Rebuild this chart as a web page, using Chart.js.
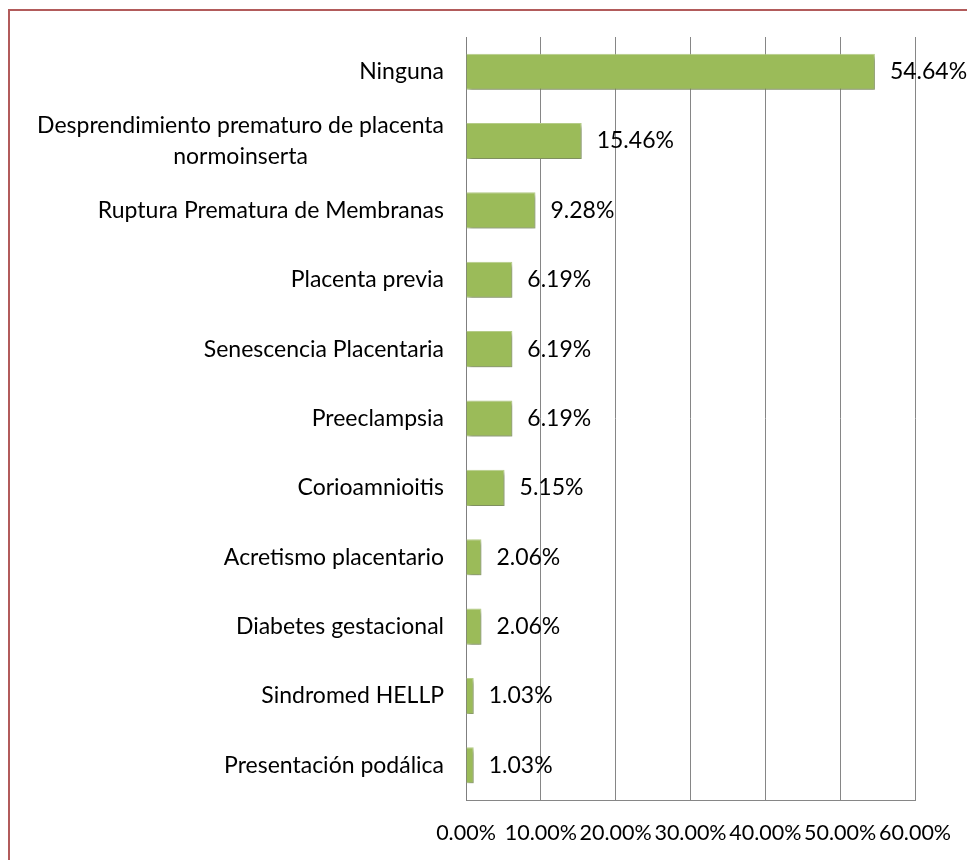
<!DOCTYPE html>
<html>
<head>
<meta charset="utf-8">
<script src="https://cdn.jsdelivr.net/npm/chart.js@4/dist/chart.umd.min.js"></script>
<style>
  html, body { margin: 0; padding: 0; background: #fff; }
  #wrap { position: relative; width: 967px; height: 860px; overflow: hidden; }
  #frame { position: absolute; left: 8px; top: 9px; width: 1000px; height: 900px;
           border-top: 2px solid #b25b5b; border-left: 2px solid #b25b5b; }
  canvas { position: absolute; left: 0; top: 0; }
</style>
</head>
<body>
<div id="wrap">
  <div id="frame"></div>
  <canvas id="chart" width="967" height="860"></canvas>
</div>
<script>
(function() {
    // categorías (de arriba hacia abajo)
    const categories = [
        ['Ninguna'],
        ['Desprendimiento prematuro de placenta', 'normoinserta'],
        ['Ruptura Prematura de Membranas'],
        ['Placenta previa'],
        ['Senescencia Placentaria'],
        ['Preeclampsia'],
        ['Corioamnioitis'],
        ['Acretismo placentario'],
        ['Diabetes gestacional'],
        ['Sindromed HELLP'],
        ['Presentación podálica']
    ];
    // porcentajes
    const values = [54.64, 15.46, 9.28, 6.19, 6.19, 6.19, 5.15, 2.06, 2.06, 1.03, 1.03];
    const xTicks = [0, 10, 20, 30, 40, 50, 60];

    const FONT = 'Lato, "Open Sans", sans-serif';
    const FONT_SIZE = 23;

    // sombra de las barras
    const barShadow = {
        id: 'barShadow',
        beforeDatasetsDraw(chart) {
            const ctx = chart.ctx;
            ctx.save();
            ctx.shadowColor = 'rgba(0,0,0,0.35)';
            ctx.shadowBlur = 4;
            ctx.shadowOffsetX = 2;
            ctx.shadowOffsetY = 3;
        },
        afterDatasetsDraw(chart) {
            chart.ctx.restore();
        }
    };

    // etiquetas de valores y de categorías
    const labelsPlugin = {
        id: 'labelsPlugin',
        afterDraw(chart) {
            const ctx = chart.ctx;
            const meta = chart.getDatasetMeta(0);
            const yScale = chart.scales.y;
            ctx.save();
            ctx.font = FONT_SIZE + 'px ' + FONT;
            ctx.fillStyle = '#000';
            ctx.textBaseline = 'middle';
            ctx.textAlign = 'left';
            meta.data.forEach((bar, i) => {
                ctx.fillText(values[i].toFixed(2) + '%', bar.x + 15, bar.y);
            });
            const rightX = chart.chartArea.left - 22;
            const lineH = 31;
            ctx.textAlign = 'center';
            categories.forEach((lines, i) => {
                const cy = yScale.getPixelForTick(i);
                const w = Math.max(...lines.map(l => ctx.measureText(l).width));
                const cx = rightX - w / 2;
                const y0 = cy - (lines.length - 1) * lineH / 2;
                lines.forEach((l, j) => ctx.fillText(l, cx, y0 + j * lineH));
            });
            ctx.restore();
        }
    };

    const ctx = document.getElementById('chart').getContext('2d');
    new Chart(ctx, {
        type: 'bar',
        data: {
            labels: categories.map(c => c.join(' ')),
            datasets: [{
                data: values,
                backgroundColor: '#9bbb59',
                borderColor: '#b8d08a',
                borderWidth: 1,
                barPercentage: 0.52,
                categoryPercentage: 1.0
            }]
        },
        options: {
            indexAxis: 'y',
            responsive: false,
            animation: false,
            layout: { padding: { top: 37, right: 52, left: 0, bottom: 0 } },
            plugins: { legend: { display: false }, tooltip: { enabled: false } },
            scales: {
                x: {
                    min: 0,
                    max: 60,
                    afterBuildTicks(scale) {
                        scale.ticks = xTicks.map(v => ({ value: v }));
                    },
                    afterFit(scale) {
                        scale.height = 60;
                        scale.paddingLeft = 0;
                        scale.paddingRight = 0;
                    },
                    grid: { color: '#868686', lineWidth: 1, drawTicks: false },
                    border: { color: '#868686', width: 1 },
                    ticks: {
                        padding: 20,
                        color: '#000',
                        maxRotation: 0,
                        autoSkip: false,
                        font: { family: FONT, size: 21.5 },
                        callback: v => v.toFixed(2) + '%'
                    }
                },
                y: {
                    afterFit(scale) { scale.width = 466; },
                    grid: { display: false },
                    border: { color: '#7f7f7f', width: 1 },
                    ticks: { display: false }
                }
            }
        },
        plugins: [barShadow, labelsPlugin]
    });
})();
</script>
</body>
</html>
